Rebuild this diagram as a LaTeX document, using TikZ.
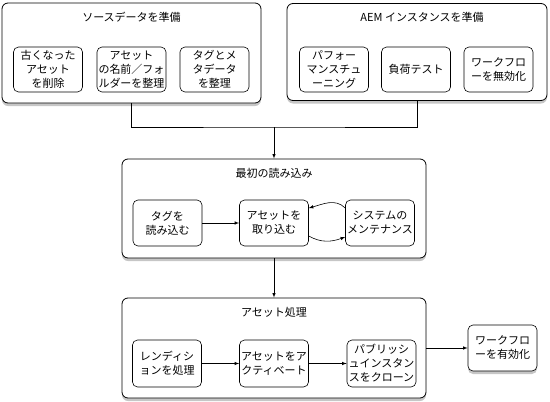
\documentclass[tikz,border=0pt]{standalone}
\usepackage{fontspec}
\setmainfont{Noto Sans CJK JP}
\usetikzlibrary{shadows}

\begin{document}
\begin{tikzpicture}[x=1pt,y=-1pt,
  font=\fontsize{11}{14}\selectfont,
  group/.style={draw,line width=0.8pt,rounded corners=6pt,fill=white,
    drop shadow={shadow xshift=0pt,shadow yshift=-3pt,opacity=0.45}},
  task/.style={draw,line width=0.6pt,rounded corners=5pt,fill=white,
    minimum width=69pt,minimum height=45pt,align=center,inner sep=1pt},
  title/.style={inner sep=0pt}]
\useasboundingbox (0,0) rectangle (550,402);

% Vorbereitung
\node[group,minimum width=259pt,minimum height=100pt] (src) at (131.5,53) {};
\node[title] (srcT) at (131.5,17) {ソースデータを準備};
\node[task] (old) at (48,69.5) {古くなった\\アセット\\を削除};
\node[task] (names) at (131.5,69.5) {アセット\\の名前／フォ\\ルダーを整理};
\node[task] (tags) at (214.5,69.5) {タグとメ\\タデータ\\を整理};

\node[group,minimum width=260pt,minimum height=97pt] (aem) at (417,52) {};
\node[title] (aemT) at (422,17) {AEM インスタンスを準備};
\node[task] (tune) at (334,69.5) {パフォー\\マンスチュ\\ーニング};
\node[task] (load) at (416,69.5) {負荷テスト};
\node[task] (wfoff) at (498.5,69.5) {ワークフロ\\ーを無効化};

\coordinate (j) at (274,127);
\draw[line width=0.6pt] (src.south) |- (j) -| (aem.south);

% Erstimport
\node[group,minimum width=304pt,minimum height=99pt] (init) at (274,208.5) {};
\node[title] (initT) at (274,173) {最初の読み込み};
\node[task,minimum height=46pt] (ltags) at (167.5,223) {タグを\\読み込む};
\node[task,minimum height=46pt] (ingest) at (274,223) {アセットを\\取り込む};
\node[task,minimum height=46pt] (maint) at (380,223) {システムの\\メンテナンス};

\draw[-latex,line width=0.6pt] (j) -- (init.north);
\draw[-latex,line width=0.6pt] (ltags) -- (ingest);
\draw[-latex,line width=0.6pt] ([yshift=15pt]maint.west) to[out=135,in=15] ([yshift=15pt]ingest.east);
\draw[-latex,line width=0.6pt] ([yshift=-13pt]ingest.east) to[out=-30,in=200] ([yshift=-14pt]maint.west);

% Verarbeitung
\node[group,minimum width=304pt,minimum height=100pt] (proc) at (274,348) {};
\node[title] (procT) at (274,312) {アセット処理};
\node[task,minimum height=47pt] (rend) at (167,363.5) {レンディシ\\ョンを処理};
\node[task,minimum height=47pt] (act) at (274,363.5) {アセットをア\\クティベート};
\node[task,minimum height=47pt] (clone) at (381.5,363.5) {パブリッシ\\ュインスタン\\スをクローン};

\node[task,minimum height=46pt,
  drop shadow={shadow xshift=0pt,shadow yshift=-3pt,opacity=0.45}] (wfon) at (502.5,348) {ワークフロ\\ーを有効化};

\draw[-latex,line width=0.6pt] (init.south) -- (proc.north);
\draw[-latex,line width=0.6pt] (rend) -- (act);
\draw[-latex,line width=0.6pt] (act) -- (clone);
\draw[-latex,line width=0.6pt] (proc.east |- wfon) -- (wfon.west);
\end{tikzpicture}
\end{document}
